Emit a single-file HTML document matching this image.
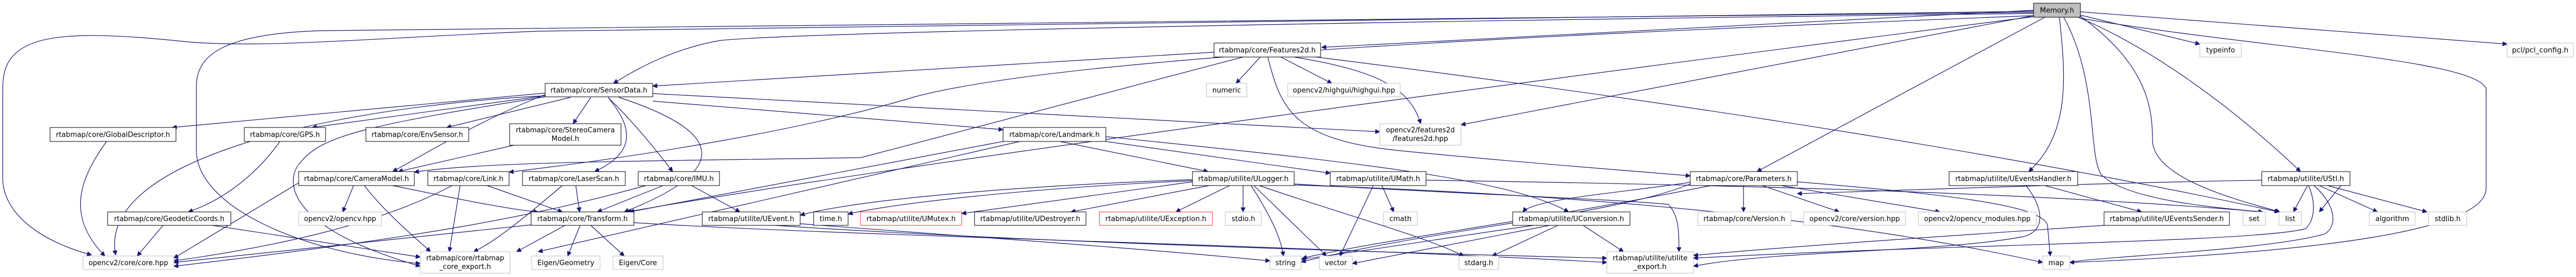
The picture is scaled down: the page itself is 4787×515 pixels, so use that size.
<!DOCTYPE html>
<html><head><meta charset="utf-8"><style>
html,body{margin:0;padding:0;background:#fff;}
svg{display:block;}
text{font-family:"DejaVu Sans","Liberation Sans",sans-serif;font-size:13px;fill:#000;}
.e{fill:none;stroke:#191970;stroke-width:1.2;}
.b{fill:#fff;stroke:#000;stroke-width:1;}
.g{fill:#fff;stroke:#bfbfbf;stroke-width:1;}
.r{fill:#fff;stroke:#ff3333;stroke-width:1;}
</style></head><body>
<svg width="4787" height="515" viewBox="0 0 4787 515" xmlns="http://www.w3.org/2000/svg">
<defs><marker id="a" viewBox="0 0 10 10" refX="10" refY="5" markerWidth="10" markerHeight="8" markerUnits="userSpaceOnUse" orient="auto"><path d="M0,0 L10,5 L0,10 z" fill="#191970" stroke="#191970"/></marker></defs>
<g class="e" marker-end="url(#a)">
<!-- Memory edges -->
<path d="M3779,21 L1000,58 C700,70 500,90 350,78 C200,62 100,60 50,85 C10,105 5,135 5,170 L5,330 C5,400 80,450 170,474"/>
<path d="M3779,23 L600,57 C420,62 365,100 365,160 L365,280 C365,380 550,470 781,490"/>
<path d="M3779,19 L2456,88"/>
<path d="M3779,25 C2500,40 1500,60 1340,75 C1250,90 1180,130 1140,155"/>
<path d="M3779,29 C3000,60 2000,100 1700,180 C1500,240 1200,290 946,320"/>
<path d="M3800,32 L3265,319"/>
<path d="M3827,32 C3840,150 3845,250 3770,319"/>
<path d="M3862,32 C4000,90 4150,200 4275,319"/>
<path d="M3835,32 C3900,150 3880,290 3905,325 C3950,370 4100,385 4205,394"/>
<path d="M3866,30 C3990,120 4000,200 4000,260 C4000,330 4150,370 4237,394"/>
<path d="M3866,28 L4088,82"/>
<path d="M3866,22 L4659,82"/>
<path d="M3866,34 C4200,90 4600,110 4620,165 L4620,350 C4620,430 4300,470 3846,488"/>
<path d="M3779,29 L2715,232"/>
<path d="M3779,31 C3000,130 1700,300 1165,394"/>
<!-- Features2d -->
<path d="M2256,97 L1213,160"/>
<path d="M2342,106 L2297,155"/>
<path d="M2380,106 L2475,155"/>
<path d="M2405,106 C2550,130 2620,160 2640,230"/>
<path d="M2310,106 L1600,293 C1200,300 900,300 770,320"/>
<path d="M2356,106 C2380,200 2400,260 2600,280 C2800,300 3000,315 3141,327"/>
<path d="M2445,106 C3200,200 3800,300 4235,394"/>
<!-- SensorData -->
<path d="M1013,173 L320,237"/>
<path d="M1013,178 L580,237"/>
<path d="M1060,181 L830,237"/>
<path d="M1098,181 L1065,230"/>
<path d="M1013,176 C900,220 800,280 730,319"/>
<path d="M1130,181 C1170,230 1190,280 1105,319"/>
<path d="M1130,181 C1180,230 1220,280 1250,319"/>
<path d="M1150,181 C1300,230 1400,300 1160,394"/>
<path d="M1013,178 C600,200 180,300 215,474"/>
<path d="M1013,180 C700,230 600,250 560,300 C530,330 520,420 781,495"/>
<path d="M1213,188 L1864,241"/>
<path d="M1213,174 L2564,245"/>
<!-- StereoCameraModel -->
<path d="M955,270 L740,319"/>
<!-- CameraModel -->
<path d="M657,345 L637,394"/>
<path d="M677,345 C720,400 770,440 800,468"/>
<path d="M730,345 C850,370 950,390 1000,394"/>
<path d="M555,340 L323,480"/>
<!-- Link -->
<path d="M855,345 L835,468"/>
<path d="M905,345 L1045,394"/>
<path d="M840,345 C700,420 500,460 323,485"/>
<!-- LaserScan -->
<path d="M1070,345 L1077,394"/>
<path d="M1045,345 C980,400 920,450 880,468"/>
<!-- IMU -->
<path d="M1232,345 L1110,394"/>
<path d="M1285,345 L1375,394"/>
<path d="M1200,345 C1000,400 800,440 323,495"/>
<!-- Transform -->
<path d="M1050,419 L960,468"/>
<path d="M1078,419 L1055,476"/>
<path d="M1098,419 L1160,476"/>
<path d="M987,418 L323,488"/>
<path d="M1178,414 C1600,440 2400,455 2986,488"/>
<!-- Landmark -->
<path d="M1970,263 L2245,319"/>
<path d="M1864,263 L1170,394"/>
<path d="M1895,263 L1000,468"/>
<path d="M2055,263 L2472,322"/>
<path d="M2055,254 C2500,300 2800,330 2915,394"/>
<!-- ULogger -->
<path d="M2216,338 L1787,397"/>
<path d="M2247,345 L1990,394"/>
<path d="M2285,345 L2185,394"/>
<path d="M2310,345 L2310,394"/>
<path d="M2325,345 C2360,400 2380,440 2385,476"/>
<path d="M2216,336 C1900,350 1650,380 1576,398"/>
<path d="M2216,334 C1900,345 1600,370 1487,400"/>
<path d="M2330,345 L2465,476"/>
<path d="M2340,345 C2500,400 2650,440 2720,476"/>
<path d="M2405,342 C2700,360 3000,370 3100,380 C3120,400 3120,430 3120,468"/>
<path d="M2405,344 C2900,360 3400,400 3796,488"/>
<!-- UMath -->
<path d="M2552,345 L2490,476"/>
<path d="M2568,345 L2590,394"/>
<path d="M2650,335 C3300,345 3800,360 4205,394"/>
<!-- UConversion -->
<path d="M2850,419 C2700,440 2550,465 2418,482"/>
<path d="M2880,419 L2513,490"/>
<path d="M2895,419 L2773,476"/>
<path d="M2942,419 L3017,468"/>
<!-- Parameters -->
<path d="M3240,345 L3240,394"/>
<path d="M3275,345 L3418,394"/>
<path d="M3310,345 L3605,394"/>
<path d="M3340,338 C3600,360 3800,380 3805,420 L3810,476"/>
<path d="M3141,339 C3000,360 2850,370 2830,394"/>
<path d="M3180,345 C2800,420 2600,440 2420,480"/>
<path d="M3141,342 C3000,400 2700,420 2418,487"/>
<!-- UEventsHandler -->
<path d="M3800,345 L3980,394"/>
<path d="M3765,345 C3800,390 3800,430 3760,440 C3600,470 3300,465 3147,495"/>
<!-- UStl -->
<path d="M4380,345 L4340,394" transform="translate(-30,0)"/>
<path d="M4288,345 L4262,394"/>
<path d="M4310,345 L4418,394"/>
<path d="M4325,345 L4510,394"/>
<path d="M4203,335 C3900,340 3500,355 3340,360"/>
<path d="M4290,345 C4305,380 4300,410 4285,425 C4200,450 3600,455 3147,480"/>
<path d="M4300,345 C4340,380 4345,420 4320,435 C4200,470 3800,480 3846,492"/>
<!-- UEventsSender / UEvent -->
<path d="M3910,419 C3600,440 3300,460 3147,475"/>
<path d="M1487,416 C1800,440 2100,460 2360,485"/>
<path d="M1440,419 C1900,450 2600,470 2986,480"/>
<!-- GPS / Geodetic / GlobalDescriptor -->
<path d="M520,263 C480,320 420,370 350,394"/>
<path d="M303,419 L255,476"/>
<path d="M395,419 L781,478"/>
<path d="M198,263 C150,330 120,400 195,476"/>
</g>
<!-- Nodes -->
<g>
<rect class="b" x="3779" y="6" width="87" height="26" style="fill:#bfbfbf"/><text x="3822.5" y="23.5" text-anchor="middle">Memory.h</text>
<rect class="b" x="2256" y="80" width="198" height="26"/><text x="2355" y="97.5" text-anchor="middle" textLength="180" lengthAdjust="spacingAndGlyphs">rtabmap/core/Features2d.h</text>
<rect class="g" x="4088" y="80" width="77" height="26"/><text x="4126.5" y="97.5" text-anchor="middle">typeinfo</text>
<rect class="g" x="4659" y="80" width="123" height="26"/><text x="4720.5" y="97.5" text-anchor="middle" textLength="105" lengthAdjust="spacingAndGlyphs">pcl/pcl_config.h</text>
<rect class="b" x="1013" y="155" width="200" height="25"/><text x="1113" y="172" text-anchor="middle" textLength="180" lengthAdjust="spacingAndGlyphs">rtabmap/core/SensorData.h</text>
<rect class="g" x="2242" y="155" width="75" height="25"/><text x="2279.5" y="172" text-anchor="middle">numeric</text>
<rect class="g" x="2393" y="155" width="209" height="25"/><text x="2497.5" y="172" text-anchor="middle" textLength="190" lengthAdjust="spacingAndGlyphs">opencv2/highgui/highgui.hpp</text>
<rect class="b" x="93" y="237" width="234" height="26"/><text x="210" y="254.5" text-anchor="middle" textLength="212" lengthAdjust="spacingAndGlyphs">rtabmap/core/GlobalDescriptor.h</text>
<rect class="b" x="454" y="237" width="151" height="26"/><text x="529.5" y="254.5" text-anchor="middle" textLength="130" lengthAdjust="spacingAndGlyphs">rtabmap/core/GPS.h</text>
<rect class="b" x="680" y="237" width="191" height="26"/><text x="775.5" y="254.5" text-anchor="middle" textLength="170" lengthAdjust="spacingAndGlyphs">rtabmap/core/EnvSensor.h</text>
<rect class="b" x="947" y="230" width="207" height="40"/><text x="1050.5" y="246" text-anchor="middle" textLength="184" lengthAdjust="spacingAndGlyphs">rtabmap/core/StereoCamera</text><text x="1050.5" y="262" text-anchor="middle">Model.h</text>
<rect class="b" x="1864" y="237" width="191" height="26"/><text x="1959.5" y="254.5" text-anchor="middle" textLength="168" lengthAdjust="spacingAndGlyphs">rtabmap/core/Landmark.h</text>
<rect class="g" x="2564" y="230" width="151" height="40"/><text x="2639.5" y="246" text-anchor="middle" textLength="128" lengthAdjust="spacingAndGlyphs">opencv2/features2d</text><text x="2639.5" y="262" text-anchor="middle" textLength="103" lengthAdjust="spacingAndGlyphs">/features2d.hpp</text>
<rect class="b" x="555" y="319" width="215" height="26"/><text x="662.5" y="336.5" text-anchor="middle" textLength="195" lengthAdjust="spacingAndGlyphs">rtabmap/core/CameraModel.h</text>
<rect class="b" x="795" y="319" width="151" height="26"/><text x="870.5" y="336.5" text-anchor="middle" textLength="130" lengthAdjust="spacingAndGlyphs">rtabmap/core/Link.h</text>
<rect class="b" x="971" y="319" width="191" height="26"/><text x="1066.5" y="336.5" text-anchor="middle" textLength="168" lengthAdjust="spacingAndGlyphs">rtabmap/core/LaserScan.h</text>
<rect class="b" x="1186" y="319" width="151" height="26"/><text x="1261.5" y="336.5" text-anchor="middle" textLength="130" lengthAdjust="spacingAndGlyphs">rtabmap/core/IMU.h</text>
<rect class="b" x="2216" y="319" width="189" height="26"/><text x="2310.5" y="336.5" text-anchor="middle" textLength="168" lengthAdjust="spacingAndGlyphs">rtabmap/utilite/ULogger.h</text>
<rect class="b" x="2472" y="319" width="178" height="26"/><text x="2561" y="336.5" text-anchor="middle" textLength="156" lengthAdjust="spacingAndGlyphs">rtabmap/utilite/UMath.h</text>
<rect class="b" x="3141" y="319" width="199" height="26"/><text x="3240.5" y="336.5" text-anchor="middle" textLength="178" lengthAdjust="spacingAndGlyphs">rtabmap/core/Parameters.h</text>
<rect class="b" x="3622" y="319" width="239" height="26"/><text x="3741.5" y="336.5" text-anchor="middle" textLength="216" lengthAdjust="spacingAndGlyphs">rtabmap/utilite/UEventsHandler.h</text>
<rect class="b" x="4203" y="319" width="164" height="26"/><text x="4285" y="336.5" text-anchor="middle" textLength="142" lengthAdjust="spacingAndGlyphs">rtabmap/utilite/UStl.h</text>
<rect class="b" x="200" y="394" width="229" height="25"/><text x="314.5" y="411" text-anchor="middle" textLength="205" lengthAdjust="spacingAndGlyphs">rtabmap/core/GeodeticCoords.h</text>
<rect class="g" x="555" y="394" width="154" height="25"/><text x="632" y="411" text-anchor="middle" textLength="134" lengthAdjust="spacingAndGlyphs">opencv2/opencv.hpp</text>
<rect class="b" x="987" y="394" width="191" height="25"/><text x="1082.5" y="411" text-anchor="middle" textLength="168" lengthAdjust="spacingAndGlyphs">rtabmap/core/Transform.h</text>
<rect class="b" x="1305" y="394" width="182" height="25"/><text x="1396" y="411" text-anchor="middle" textLength="160" lengthAdjust="spacingAndGlyphs">rtabmap/utilite/UEvent.h</text>
<rect class="b" x="1512" y="394" width="64" height="25"/><text x="1544" y="411" text-anchor="middle">time.h</text>
<rect class="r" x="1599" y="394" width="188" height="25"/><text x="1693" y="411" text-anchor="middle" textLength="166" lengthAdjust="spacingAndGlyphs">rtabmap/utilite/UMutex.h</text>
<rect class="b" x="1811" y="394" width="207" height="25"/><text x="1914.5" y="411" text-anchor="middle" textLength="186" lengthAdjust="spacingAndGlyphs">rtabmap/utilite/UDestroyer.h</text>
<rect class="r" x="2043" y="394" width="210" height="25"/><text x="2148" y="411" text-anchor="middle" textLength="188" lengthAdjust="spacingAndGlyphs">rtabmap/utilite/UException.h</text>
<rect class="g" x="2277" y="394" width="67" height="25"/><text x="2310.5" y="411" text-anchor="middle">stdio.h</text>
<rect class="g" x="2571" y="394" width="63" height="25"/><text x="2602.5" y="411" text-anchor="middle">cmath</text>
<rect class="b" x="2811" y="394" width="218" height="25"/><text x="2920" y="411" text-anchor="middle" textLength="196" lengthAdjust="spacingAndGlyphs">rtabmap/utilite/UConversion.h</text>
<rect class="g" x="3155" y="394" width="173" height="25"/><text x="3241.5" y="411" text-anchor="middle" textLength="152" lengthAdjust="spacingAndGlyphs">rtabmap/core/Version.h</text>
<rect class="g" x="3352" y="394" width="189" height="25"/><text x="3446.5" y="411" text-anchor="middle" textLength="168" lengthAdjust="spacingAndGlyphs">opencv2/core/version.hpp</text>
<rect class="g" x="3565" y="394" width="219" height="25"/><text x="3674.5" y="411" text-anchor="middle" textLength="198" lengthAdjust="spacingAndGlyphs">opencv2/opencv_modules.hpp</text>
<rect class="b" x="3910" y="394" width="233" height="25"/><text x="4026.5" y="411" text-anchor="middle" textLength="212" lengthAdjust="spacingAndGlyphs">rtabmap/utilite/UEventsSender.h</text>
<rect class="g" x="4168" y="394" width="42" height="25"/><text x="4189" y="411" text-anchor="middle">set</text>
<rect class="g" x="4235" y="394" width="42" height="25"/><text x="4256" y="411" text-anchor="middle">list</text>
<rect class="g" x="4403" y="394" width="85" height="25"/><text x="4445.5" y="411" text-anchor="middle">algorithm</text>
<rect class="g" x="4513" y="394" width="71" height="25"/><text x="4548.5" y="411" text-anchor="middle">stdlib.h</text>
<rect class="g" x="154" y="476" width="169" height="25"/><text x="238.5" y="493" text-anchor="middle" textLength="148" lengthAdjust="spacingAndGlyphs">opencv2/core/core.hpp</text>
<rect class="g" x="781" y="468" width="167" height="40"/><text x="864.5" y="484" text-anchor="middle" textLength="145" lengthAdjust="spacingAndGlyphs">rtabmap/core/rtabmap</text><text x="864.5" y="500" text-anchor="middle">_core_export.h</text>
<rect class="g" x="988" y="476" width="127" height="25"/><text x="1051.5" y="493" text-anchor="middle" textLength="106" lengthAdjust="spacingAndGlyphs">Eigen/Geometry</text>
<rect class="g" x="1139" y="476" width="93" height="25"/><text x="1185.5" y="493" text-anchor="middle">Eigen/Core</text>
<rect class="g" x="2360" y="476" width="58" height="25"/><text x="2389" y="493" text-anchor="middle">string</text>
<rect class="g" x="2452" y="476" width="61" height="25"/><text x="2482.5" y="493" text-anchor="middle">vector</text>
<rect class="g" x="2711" y="476" width="74" height="25"/><text x="2748" y="493" text-anchor="middle">stdarg.h</text>
<rect class="g" x="2986" y="468" width="161" height="40"/><text x="3066.5" y="484" text-anchor="middle" textLength="139" lengthAdjust="spacingAndGlyphs">rtabmap/utilite/utilite</text><text x="3066.5" y="500" text-anchor="middle">_export.h</text>
<rect class="g" x="3796" y="476" width="50" height="25"/><text x="3821" y="493" text-anchor="middle">map</text>
</g>
</svg>
</body></html>
